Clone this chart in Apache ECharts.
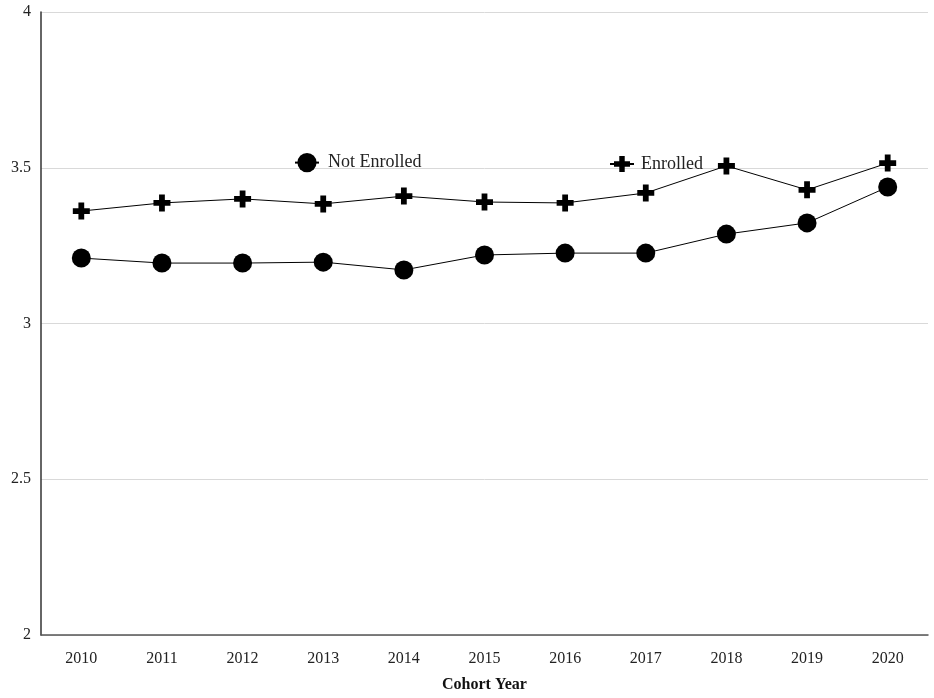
<!DOCTYPE html>
<html>
<head>
<meta charset="utf-8">
<script src="https://cdn.jsdelivr.net/npm/echarts@6/dist/echarts.min.js"></script>
<style>html,body{margin:0;padding:0;background:#fff}#c{width:934px;height:698px}</style>
</head>
<body>
<div id="c"></div>
<script>
const categories = ['2010','2011','2012','2013','2014','2015','2016','2017','2018','2019','2020'];
const notEnrolled = [3.210, 3.194, 3.194, 3.197, 3.172, 3.220, 3.226, 3.226, 3.287, 3.323, 3.438];
const enrolled = [3.361, 3.387, 3.400, 3.384, 3.409, 3.390, 3.387, 3.419, 3.506, 3.429, 3.515];
const yTicks = { min: 2, max: 4, interval: 0.5 };

const plus = 'path://M33,0H67V33H100V67H67V100H33V67H0V33H33Z';
const font = 'Liberation Serif';
const chart = echarts.init(document.getElementById('c'));
chart.setOption({
  animation: false,
  textStyle: { fontFamily: font },
  grid: { left: 41, right: 6, top: 12, bottom: 63 },
  legend: [
    { data: ['Not Enrolled'], left: 294, top: 153, itemWidth: 24, itemHeight: 24, itemGap: 0,
      padding: 0, textStyle: { fontFamily: font, fontSize: 18, color: '#222', padding: [0, 0, 0, 4] } },
    { data: ['Enrolled'], left: 609, top: 155, itemWidth: 24, itemHeight: 20, itemGap: 0,
      padding: 0, textStyle: { fontFamily: font, fontSize: 18, color: '#222', padding: [0, 0, 0, 2] } }
  ],
  xAxis: {
    type: 'category', data: categories,
    name: 'Cohort Year', nameLocation: 'middle', nameGap: 42,
    nameTextStyle: { fontFamily: font, fontSize: 16, fontWeight: 'bold', color: '#111' },
    axisLine: { lineStyle: { color: '#555', width: 1.5 } },
    axisTick: { show: false },
    axisLabel: { fontFamily: font, fontSize: 16, color: '#222', margin: 16 }
  },
  yAxis: {
    type: 'value', min: yTicks.min, max: yTicks.max, interval: yTicks.interval,
    axisLine: { show: true, lineStyle: { color: '#333', width: 1.5 } },
    axisTick: { show: false },
    splitLine: { lineStyle: { color: '#d9d9d9' } },
    axisLabel: { fontFamily: font, fontSize: 16, color: '#222', margin: 10 }
  },
  series: [
    { name: 'Not Enrolled', type: 'line', data: notEnrolled, symbol: 'circle', symbolSize: 19,
      itemStyle: { color: '#000' }, lineStyle: { color: '#000', width: 1 } },
    { name: 'Enrolled', type: 'line', data: enrolled, symbol: plus, symbolSize: 17,
      itemStyle: { color: '#000' }, lineStyle: { color: '#000', width: 1 } }
  ]
});
</script>
</body>
</html>
